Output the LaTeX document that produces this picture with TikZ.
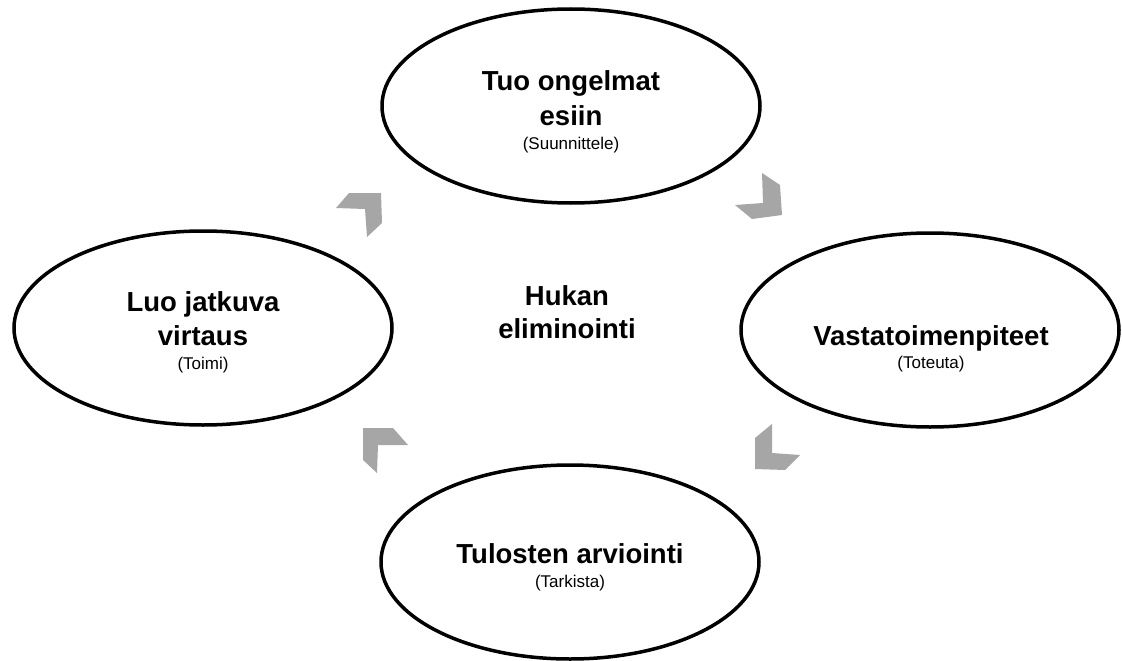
\documentclass[tikz,border=0pt]{standalone}
\usepackage{fontspec}
\setmainfont{Liberation Sans}
\usetikzlibrary{shapes.geometric}
\definecolor{chevrongray}{gray}{0.65}
\tikzset{
  phase/.style={draw=black, line width=3.5pt, ellipse, minimum width=378pt, minimum height=194pt, inner sep=0pt},
  title/.style={anchor=base, font=\bfseries\fontsize{27.5}{33}\selectfont},
  note/.style={anchor=base, font=\fontsize{17}{20}\selectfont},
  chevron/.style={fill=chevrongray},
}

\begin{document}
\begin{tikzpicture}[x=1pt, y=-1pt]
\useasboundingbox (0,0) rectangle (1122,661);
% the four phases
\node[phase] (plan) at (571,106) {};
\node[phase] (do) at (930,330) {};
\node[phase] (check) at (570,562) {};
\node[phase] (act) at (203,328) {};
% titles and notes
\node[title] (plan-a) at (571,91) {Tuo ongelmat};
\node[title] (plan-b) at (571,125) {esiin};
\node[note] (plan-note) at (571,149.5) {(Suunnittele)};
\node[title] (do-a) at (931,345) {Vastatoimenpiteet};
\node[note] (do-note) at (931,368) {(Toteuta)};
\node[title] (check-a) at (570,563) {Tulosten arviointi};
\node[note] (check-note) at (570,587) {(Tarkista)};
\node[title] (act-a) at (203,311) {Luo jatkuva};
\node[title] (act-b) at (203,345) {virtaus};
\node[note] (act-note) at (203,369) {(Toimi)};
% centre
\node[title] (goal-a) at (567,305) {Hukan};
\node[title] (goal-b) at (567,338) {eliminointi};
% chevrons
\fill[chevron] (336,208) -- (349,193) -- (381,193) -- (382,223) -- (367,237) -- (365,209) -- cycle;
\fill[chevron] (762,173) -- (780,185) -- (782,215) -- (752,219) -- (735,205) -- (763,203) -- cycle;
\fill[chevron] (755,438) -- (772,424) -- (772,453) -- (800,455) -- (785,470) -- (755,469) -- cycle;
\fill[chevron] (363,428) -- (393,428) -- (408,445) -- (378,445) -- (377,473) -- (363,460) -- cycle;
\end{tikzpicture}
\end{document}
